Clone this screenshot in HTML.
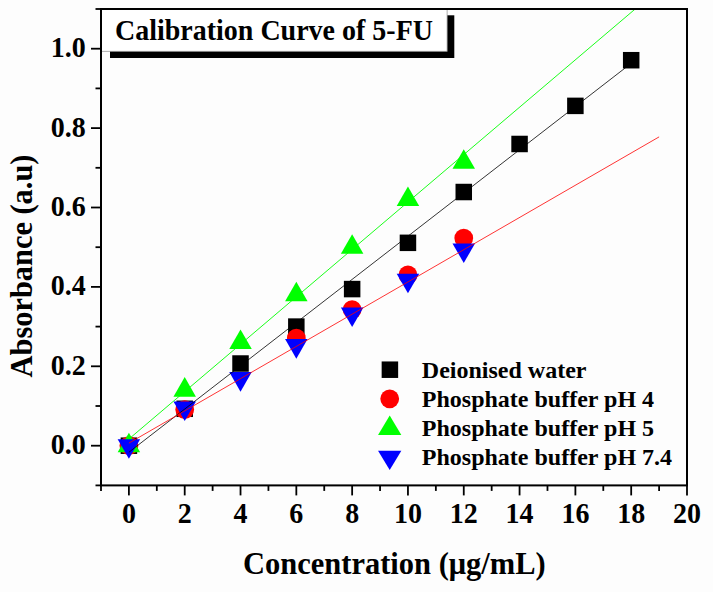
<!DOCTYPE html>
<html><head><meta charset="utf-8"><style>
html,body{margin:0;padding:0;background:#fdfdfd;}
svg{display:block;}
text{font-family:"Liberation Serif",serif;font-weight:bold;fill:#000;}
</style></head><body>
<svg width="713" height="592" viewBox="0 0 713 592">
<rect x="0" y="0" width="713" height="592" fill="#fdfdfd"/>
<g><rect x="120.65" y="437.45" width="16.5" height="16.5" fill="#000"/><rect x="176.46" y="400.53" width="16.5" height="16.5" fill="#000"/><rect x="232.27" y="355.27" width="16.5" height="16.5" fill="#000"/><rect x="288.08" y="318.35" width="16.5" height="16.5" fill="#000"/><rect x="343.89" y="280.83" width="16.5" height="16.5" fill="#000"/><rect x="399.70" y="234.58" width="16.5" height="16.5" fill="#000"/><rect x="455.51" y="183.77" width="16.5" height="16.5" fill="#000"/><rect x="511.32" y="135.73" width="16.5" height="16.5" fill="#000"/><rect x="567.13" y="97.62" width="16.5" height="16.5" fill="#000"/><rect x="622.94" y="51.96" width="16.5" height="16.5" fill="#000"/><circle cx="128.90" cy="445.70" r="9.4" fill="#f00"/><circle cx="184.71" cy="409.57" r="9.4" fill="#f00"/><circle cx="296.33" cy="338.11" r="9.4" fill="#f00"/><circle cx="352.14" cy="309.53" r="9.4" fill="#f00"/><circle cx="407.95" cy="274.99" r="9.4" fill="#f00"/><circle cx="463.76" cy="238.07" r="9.4" fill="#f00"/><polygon points="128.90,432.63 140.15,452.23 117.65,452.23" fill="#0f0"/><polygon points="184.71,377.05 195.96,396.65 173.46,396.65" fill="#0f0"/><polygon points="240.52,329.41 251.77,349.01 229.27,349.01" fill="#0f0"/><polygon points="296.33,281.77 307.58,301.37 285.08,301.37" fill="#0f0"/><polygon points="352.14,234.13 363.39,253.73 340.89,253.73" fill="#0f0"/><polygon points="407.95,186.49 419.20,206.09 396.70,206.09" fill="#0f0"/><polygon points="463.76,149.18 475.01,168.78 452.51,168.78" fill="#0f0"/><polygon points="117.65,439.17 140.15,439.17 128.90,458.77" fill="#00f"/><polygon points="173.46,401.45 195.96,401.45 184.71,421.05" fill="#00f"/><polygon points="229.27,372.07 251.77,372.07 240.52,391.67" fill="#00f"/><polygon points="285.08,339.12 307.58,339.12 296.33,358.72" fill="#00f"/><polygon points="340.89,307.52 363.39,307.52 352.14,327.12" fill="#00f"/><polygon points="396.70,273.74 419.20,273.74 407.95,293.34" fill="#00f"/><polygon points="452.51,243.45 475.01,243.45 463.76,263.05" fill="#00f"/></g>
<g><line x1="128.90" y1="439.04" x2="635.19" y2="9.00" stroke="#00ff00" stroke-width="0.9"/><line x1="128.90" y1="452.24" x2="631.19" y2="63.32" stroke="#000" stroke-width="0.8"/><line x1="128.90" y1="443.13" x2="659.10" y2="136.89" stroke="#ff0000" stroke-width="0.8"/></g>
<!-- title box -->
<rect x="110" y="15.3" width="344.3" height="42.7" fill="#000"/>
<rect x="101.5" y="9" width="345.6" height="42.3" fill="#fff" stroke="#999" stroke-width="0.8"/>
<text transform="translate(115.00,39.70) scale(1,1.07)" text-anchor="start" style="font-size:28px">Calibration Curve of 5-FU</text>
<!-- frame -->
<g stroke="#000" stroke-width="2.0" fill="none">
<rect x="101.0" y="9.0" width="586.0" height="476.40"/>
</g>
<g stroke="#000" stroke-width="1.8"><line x1="128.90" y1="485.40" x2="128.90" y2="495.40"/><line x1="184.71" y1="485.40" x2="184.71" y2="495.40"/><line x1="240.52" y1="485.40" x2="240.52" y2="495.40"/><line x1="296.33" y1="485.40" x2="296.33" y2="495.40"/><line x1="352.14" y1="485.40" x2="352.14" y2="495.40"/><line x1="407.95" y1="485.40" x2="407.95" y2="495.40"/><line x1="463.76" y1="485.40" x2="463.76" y2="495.40"/><line x1="519.57" y1="485.40" x2="519.57" y2="495.40"/><line x1="575.38" y1="485.40" x2="575.38" y2="495.40"/><line x1="631.19" y1="485.40" x2="631.19" y2="495.40"/><line x1="687.00" y1="485.40" x2="687.00" y2="495.40"/><line x1="101.00" y1="485.40" x2="101.00" y2="490.90"/><line x1="156.81" y1="485.40" x2="156.81" y2="490.90"/><line x1="212.62" y1="485.40" x2="212.62" y2="490.90"/><line x1="268.43" y1="485.40" x2="268.43" y2="490.90"/><line x1="324.24" y1="485.40" x2="324.24" y2="490.90"/><line x1="380.05" y1="485.40" x2="380.05" y2="490.90"/><line x1="435.86" y1="485.40" x2="435.86" y2="490.90"/><line x1="491.67" y1="485.40" x2="491.67" y2="490.90"/><line x1="547.48" y1="485.40" x2="547.48" y2="490.90"/><line x1="603.29" y1="485.40" x2="603.29" y2="490.90"/><line x1="659.10" y1="485.40" x2="659.10" y2="490.90"/><line x1="91.00" y1="445.70" x2="101.00" y2="445.70"/><line x1="91.00" y1="366.30" x2="101.00" y2="366.30"/><line x1="91.00" y1="286.90" x2="101.00" y2="286.90"/><line x1="91.00" y1="207.50" x2="101.00" y2="207.50"/><line x1="91.00" y1="128.10" x2="101.00" y2="128.10"/><line x1="91.00" y1="48.70" x2="101.00" y2="48.70"/><line x1="95.50" y1="485.40" x2="101.00" y2="485.40"/><line x1="95.50" y1="406.00" x2="101.00" y2="406.00"/><line x1="95.50" y1="326.60" x2="101.00" y2="326.60"/><line x1="95.50" y1="247.20" x2="101.00" y2="247.20"/><line x1="95.50" y1="167.80" x2="101.00" y2="167.80"/><line x1="95.50" y1="88.40" x2="101.00" y2="88.40"/><line x1="95.50" y1="9.00" x2="101.00" y2="9.00"/></g>
<text transform="translate(85.80,454.20) scale(1,1.07)" text-anchor="end" style="font-size:28px">0.0</text><text transform="translate(85.80,374.80) scale(1,1.07)" text-anchor="end" style="font-size:28px">0.2</text><text transform="translate(85.80,295.40) scale(1,1.07)" text-anchor="end" style="font-size:28px">0.4</text><text transform="translate(85.80,216.00) scale(1,1.07)" text-anchor="end" style="font-size:28px">0.6</text><text transform="translate(85.80,136.60) scale(1,1.07)" text-anchor="end" style="font-size:28px">0.8</text><text transform="translate(85.80,57.20) scale(1,1.07)" text-anchor="end" style="font-size:28px">1.0</text><text transform="translate(128.90,522.60) scale(1,1.07)" text-anchor="middle" style="font-size:28px">0</text><text transform="translate(184.71,522.60) scale(1,1.07)" text-anchor="middle" style="font-size:28px">2</text><text transform="translate(240.52,522.60) scale(1,1.07)" text-anchor="middle" style="font-size:28px">4</text><text transform="translate(296.33,522.60) scale(1,1.07)" text-anchor="middle" style="font-size:28px">6</text><text transform="translate(352.14,522.60) scale(1,1.07)" text-anchor="middle" style="font-size:28px">8</text><text transform="translate(407.95,522.60) scale(1,1.07)" text-anchor="middle" style="font-size:28px">10</text><text transform="translate(463.76,522.60) scale(1,1.07)" text-anchor="middle" style="font-size:28px">12</text><text transform="translate(519.57,522.60) scale(1,1.07)" text-anchor="middle" style="font-size:28px">14</text><text transform="translate(575.38,522.60) scale(1,1.07)" text-anchor="middle" style="font-size:28px">16</text><text transform="translate(631.19,522.60) scale(1,1.07)" text-anchor="middle" style="font-size:28px">18</text><text transform="translate(687.00,522.60) scale(1,1.07)" text-anchor="middle" style="font-size:28px">20</text>
<!-- legend -->
<rect x="381.65" y="361.45" width="16.5" height="16.5" fill="#000"/>
<circle cx="389.70" cy="398.80" r="9.4" fill="#f00"/>
<polygon points="389.70,415.60 401.35,435.00 378.05,435.00" fill="#0f0"/>
<polygon points="378.05,450.70 401.35,450.70 389.70,469.90" fill="#00f"/>
<text transform="translate(421.80,378.10) scale(1,1.0)" text-anchor="start" style="font-size:24px">Deionised water</text>
<text transform="translate(421.80,406.70) scale(1,1.0)" text-anchor="start" style="font-size:24px">Phosphate buffer pH 4</text>
<text transform="translate(421.80,436.30) scale(1,1.0)" text-anchor="start" style="font-size:24px">Phosphate buffer pH 5</text>
<text transform="translate(421.80,465.00) scale(1,1.0)" text-anchor="start" style="font-size:24px">Phosphate buffer pH 7.4</text>
<text transform="translate(243.00,573.60) scale(1,1.065)" text-anchor="start" style="font-size:30.5px">Concentration (μg/mL)</text>
<text transform="translate(32.30,377.40) rotate(-90) scale(1,1.02)" text-anchor="start" style="font-size:30.4px">Absorbance (a.u)</text>
</svg>
</body></html>
